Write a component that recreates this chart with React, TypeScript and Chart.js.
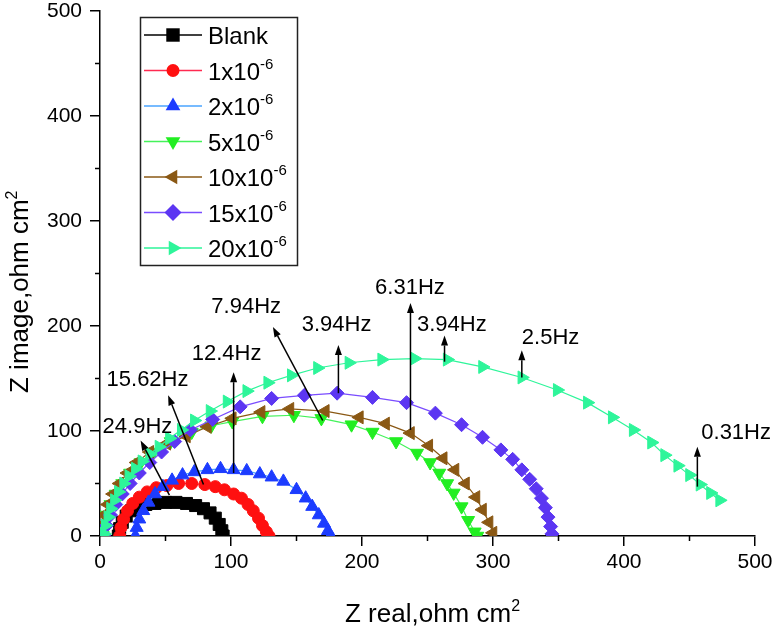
import React, { useEffect, useRef } from 'react';
import { Chart, registerables } from 'chart.js';

Chart.register(...registerables);

const FONT = '"Liberation Sans", Arial, sans-serif';

// ---- Series data (Z real, Z image in ohm cm^2) ----
const seriesNames = ['Blank', '1x10', '2x10', '5x10', '10x10', '15x10', '20x10'];
const seriesExps = ['', '-6', '-6', '-6', '-6', '-6', '-6'];

const blankX = [14, 15, 17, 20, 24, 29, 35, 42, 50, 58, 66, 73, 79, 84, 88, 91, 93, 94];
const blankY = [0, 7, 13, 19, 24, 28, 30, 31, 32, 32, 31, 29, 26, 22, 17, 11, 5, 0];

const c1X = [15, 16, 18, 21, 25, 30, 36, 43, 51, 60, 70, 80, 88, 95, 102, 108, 113, 117, 121, 124, 127, 129];
const c1Y = [0, 8, 16, 24, 31, 37, 42, 46, 48, 50, 50, 49, 47, 44, 40, 36, 30, 24, 17, 10, 4, 0];

const c2X = [27, 28, 30, 33, 37, 42, 48, 55, 63, 72, 82, 92, 102, 112, 122, 131, 140, 150, 157, 162, 167, 171, 174, 176];
const c2Y = [0, 8, 16, 24, 32, 40, 47, 53, 58, 61, 63, 64, 63, 62, 59, 56, 52, 44, 36, 28, 20, 12, 5, 0];

const c5X = [2, 3, 5, 8, 12, 17, 23, 31, 41, 54, 70, 85, 101, 124, 148, 169, 192, 208, 226, 242, 252, 259, 265, 270, 276, 281, 286, 288];
const c5Y = [1, 10, 20, 30, 40, 50, 60, 70, 80, 90, 99, 105, 109, 114, 115, 112, 106, 99, 90, 79, 70, 60, 50, 41, 28, 15, 4, 0];

const c10X = [0, 1, 3, 6, 10, 15, 21, 28, 38, 51, 66, 82, 101, 123, 145, 172, 198, 218, 237, 251, 262, 271, 279, 287, 292, 297, 300];
const c10Y = [2, 10, 20, 30, 40, 50, 60, 70, 80, 88, 95, 104, 112, 118, 121, 119, 113, 107, 98, 86, 74, 63, 50, 37, 25, 13, 3];

const c15X = [3, 5, 8, 12, 17, 23, 30, 38, 47, 57, 69, 86, 107, 131, 156, 181, 208, 234, 256, 276, 292, 306, 315, 322, 328, 333, 337, 340, 342, 344, 345];
const c15Y = [1, 10, 20, 30, 40, 50, 60, 70, 80, 90, 101, 111, 123, 131, 134, 136, 132, 127, 117, 106, 94, 82, 73, 63, 54, 45, 36, 27, 18, 9, 2];

const c20X = [3, 4, 6, 8, 11, 14, 18, 22, 27, 32, 38, 45, 53, 62, 72, 84, 97, 112, 128, 146, 166, 190, 215, 240, 265, 292, 322, 349, 372, 391, 407, 421, 431, 441, 450, 458, 466, 473];
const c20Y = [2, 10, 18, 26, 34, 42, 50, 57, 64, 71, 78, 85, 93, 101, 110, 119, 128, 138, 146, 153, 160, 165, 168, 169, 168, 161, 151, 139, 127, 113, 101, 89, 77, 67, 58, 49, 41, 34];

const seriesX = [blankX, c1X, c2X, c5X, c10X, c15X, c20X];
const seriesY = [blankY, c1Y, c2Y, c5Y, c10Y, c15Y, c20Y];

const markerColors = ['#000000', '#ff1010', '#1c3cff', '#22ee22', '#8a5814', '#5c36f2', '#2ef59a'];
const lineColors = ['#000000', '#ff2a50', '#4aa4ff', '#44f25a', '#8a5814', '#7a4cff', '#2ef59a'];
const pointStyles = ['rect', 'circle', 'triangle', 'triangle', 'triangle', 'rectRot', 'triangle'];
const pointRotations = [0, 0, 0, 180, 270, 0, 90];
const pointRadii = [8.5, 6, 7.5, 7.5, 7.5, 7, 7.5];

// ---- Axis ----
const axisMin = 0;
const axisMax = 500;
const majorStep = 100;
const minorTicks = [50, 150, 250, 350, 450];

// ---- Frequency annotations (data coordinates) ----
const annLabels = ['24.9Hz', '15.62Hz', '12.4Hz', '7.94Hz', '3.94Hz', '6.31Hz', '3.94Hz', '2.5Hz', '0.31Hz'];
const annTailX = [53, 79, 102, 170, 182, 237, 263, 322, 456];
const annTailY = [39, 49, 60, 110, 136, 101, 166, 151, 47];
const annHeadX = [31, 52, 102, 132, 182, 237, 263, 322, 456];
const annHeadY = [91, 134, 156, 199, 182, 222, 191, 177, 85];
const annTextX = [2, 5, 70, 85, 154, 210, 242, 322, 459];
const annTextY = [104, 149, 173, 218, 201, 236, 201, 189, 98];

function drawMarker(ctx: CanvasRenderingContext2D, style: string, rot: number, x: number, y: number, r: number, color: string) {
  ctx.save();
  ctx.fillStyle = color;
  ctx.beginPath();
  if (style === 'rect') {
    const s = r * Math.SQRT1_2;
    ctx.rect(x - s, y - s, 2 * s, 2 * s);
  } else if (style === 'circle') {
    ctx.arc(x, y, r, 0, Math.PI * 2);
  } else if (style === 'rectRot') {
    ctx.moveTo(x, y - r);
    ctx.lineTo(x + r, y);
    ctx.lineTo(x, y + r);
    ctx.lineTo(x - r, y);
    ctx.closePath();
  } else {
    let rad = (rot * Math.PI) / 180;
    ctx.moveTo(x + Math.sin(rad) * r, y - Math.cos(rad) * r);
    for (let k = 0; k < 2; k++) {
      rad += (2 * Math.PI) / 3;
      ctx.lineTo(x + Math.sin(rad) * r, y - Math.cos(rad) * r);
    }
    ctx.closePath();
  }
  ctx.fill();
  ctx.restore();
}

function drawSuperText(ctx: CanvasRenderingContext2D, base: string, sup: string, x: number, y: number, size: number, supSize: number, rise: number) {
  ctx.font = `${size}px ${FONT}`;
  ctx.fillText(base, x, y);
  const w = ctx.measureText(base).width;
  if (sup) {
    ctx.font = `${supSize}px ${FONT}`;
    ctx.fillText(sup, x + w, y - rise);
  }
}

const overlayPlugin = {
  id: 'overlay',
  afterDraw(chart: any) {
    const ctx: CanvasRenderingContext2D = chart.ctx;
    const xs = chart.scales.x;
    const ys = chart.scales.y;
    const area = chart.chartArea;
    ctx.save();

    // minor ticks
    ctx.strokeStyle = '#000';
    ctx.lineWidth = 1.5;
    ctx.beginPath();
    minorTicks.forEach((v) => {
      const px = xs.getPixelForValue(v);
      ctx.moveTo(px, area.bottom);
      ctx.lineTo(px, area.bottom + 5);
      const py = ys.getPixelForValue(v);
      ctx.moveTo(area.left, py);
      ctx.lineTo(area.left - 5, py);
    });
    ctx.stroke();

    // annotations
    ctx.fillStyle = '#000';
    ctx.strokeStyle = '#000';
    annLabels.forEach((lab, i) => {
      const tx = xs.getPixelForValue(annTailX[i]);
      const ty = ys.getPixelForValue(annTailY[i]);
      const hx = xs.getPixelForValue(annHeadX[i]);
      const hy = ys.getPixelForValue(annHeadY[i]);
      const ang = Math.atan2(hy - ty, hx - tx);
      const L = 10;
      const W = 3.5;
      const bx = hx - Math.cos(ang) * L;
      const by = hy - Math.sin(ang) * L;
      ctx.lineWidth = 1.5;
      ctx.beginPath();
      ctx.moveTo(tx, ty);
      ctx.lineTo(bx, by);
      ctx.stroke();
      ctx.beginPath();
      ctx.moveTo(hx, hy);
      ctx.lineTo(bx - Math.sin(ang) * W, by + Math.cos(ang) * W);
      ctx.lineTo(bx + Math.sin(ang) * W, by - Math.cos(ang) * W);
      ctx.closePath();
      ctx.fill();
      ctx.font = `22px ${FONT}`;
      ctx.textAlign = 'left';
      ctx.textBaseline = 'middle';
      ctx.fillText(lab, xs.getPixelForValue(annTextX[i]), ys.getPixelForValue(annTextY[i]));
    });

    // legend
    const lx = 140;
    const ly = 17;
    ctx.lineWidth = 1.5;
    ctx.strokeStyle = '#222';
    ctx.strokeRect(lx + 0.5, ly + 0.5, 157, 248);
    ctx.textBaseline = 'alphabetic';
    ctx.textAlign = 'left';
    seriesNames.forEach((name, i) => {
      const cy = 35 + i * 35.5;
      ctx.strokeStyle = lineColors[i];
      ctx.lineWidth = 1.5;
      ctx.beginPath();
      ctx.moveTo(144, cy);
      ctx.lineTo(202, cy);
      ctx.stroke();
      const st = pointStyles[i];
      const r = st === 'rect' ? 9.5 : st === 'circle' ? 6.5 : 8.5;
      drawMarker(ctx, st, pointRotations[i], 173, cy, r, markerColors[i]);
      ctx.fillStyle = '#000';
      drawSuperText(ctx, name, seriesExps[i], 208, cy + 9, 24, 15, 11);
    });

    // axis titles
    ctx.fillStyle = '#000';
    ctx.textBaseline = 'alphabetic';
    ctx.textAlign = 'left';
    drawSuperText(ctx, 'Z real,ohm cm', '2', 345, 622, 26, 16, 11);
    ctx.save();
    ctx.translate(28, 393);
    ctx.rotate(-Math.PI / 2);
    drawSuperText(ctx, 'Z image,ohm cm', '2', 0, 0, 26, 16, 11);
    ctx.restore();

    ctx.restore();
  },
};

export default function App() {
  const ref = useRef<HTMLCanvasElement>(null);
  useEffect(() => {
    const datasets = seriesNames.map((name, i) => ({
      label: name + seriesExps[i],
      data: seriesX[i].map((x, j) => ({ x, y: seriesY[i][j] })),
      borderColor: lineColors[i],
      borderWidth: 1.2,
      backgroundColor: markerColors[i],
      pointBackgroundColor: markerColors[i],
      pointBorderColor: markerColors[i],
      pointBorderWidth: 1,
      pointStyle: pointStyles[i],
      pointRotation: pointRotations[i],
      pointRadius: pointRadii[i],
      showLine: true,
      tension: 0,
      order: -i,
    }));
    const tickFont = { family: FONT, size: 21, lineHeight: 1 };
    const chart = new Chart(ref.current as HTMLCanvasElement, {
      type: 'scatter',
      data: { datasets } as any,
      options: {
        responsive: false,
        animation: false,
        devicePixelRatio: 1,
        layout: { padding: { top: 11, right: 19, left: 0, bottom: 0 } },
        plugins: { legend: { display: false }, tooltip: { enabled: false } },
        scales: {
          x: {
            type: 'linear',
            min: axisMin,
            max: axisMax,
            ticks: { stepSize: majorStep, font: tickFont, color: '#000', padding: 6 },
            grid: { drawOnChartArea: false, drawTicks: true, tickLength: 10, color: '#000', lineWidth: 1.5 },
            border: { display: true, color: '#000', width: 1.5 },
            afterFit: (s: any) => { s.height = 91; s.paddingRight = 19; s.paddingLeft = 0; },
          },
          y: {
            type: 'linear',
            min: axisMin,
            max: axisMax,
            ticks: { stepSize: majorStep, font: tickFont, color: '#000', padding: 8 },
            grid: { drawOnChartArea: false, drawTicks: true, tickLength: 10, color: '#000', lineWidth: 1.5 },
            border: { display: true, color: '#000', width: 1.5 },
            afterFit: (s: any) => { s.width = 100; s.paddingTop = 11; s.paddingBottom = 0; },
          },
        },
      } as any,
      plugins: [overlayPlugin],
    });
    return () => chart.destroy();
  }, []);
  return (
    <div style={{ position: 'absolute', left: 0, top: 0, width: 774, height: 627, background: '#fff' }}>
      <canvas ref={ref} width={774} height={627} style={{ display: 'block' }} />
    </div>
  );
}
